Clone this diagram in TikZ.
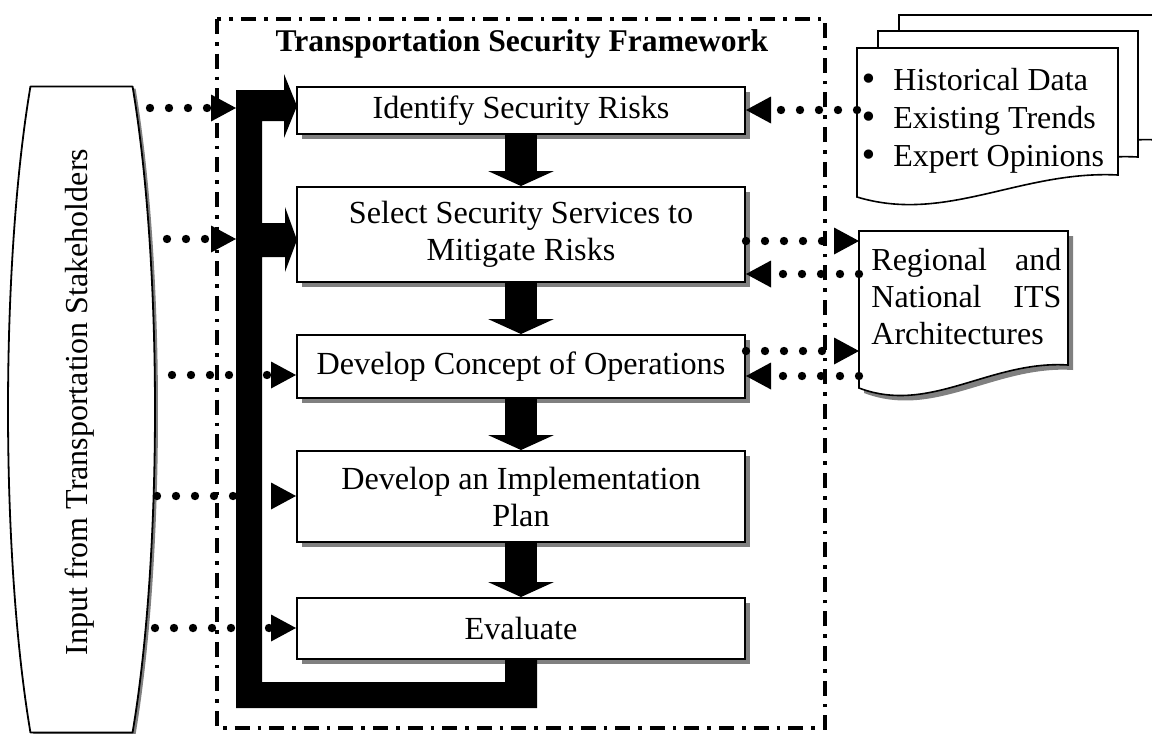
\documentclass[tikz,border=0pt]{standalone}
\usepackage{fontspec}
\setmainfont{Liberation Serif}
\newfontfamily\bulfont{DejaVu Sans}
\usetikzlibrary{arrows.meta,shadows,calc}
\newcommand{\bigbul}{\makebox[17pt][l]{\bulfont •}}
\begin{document}
\begin{tikzpicture}[x=0.5pt,y=-0.5pt,
  stepbox/.style={draw=black, line width=1pt, fill=white, inner sep=0pt, align=center,
     font=\fontsize{16.1}{18.5}\selectfont,
     drop shadow={shadow xshift=2.5pt, shadow yshift=-2.5pt, fill=black!50, opacity=1}},
  frameline/.style={line width=1.8pt, dash pattern=on 7.5pt off 4pt on 1.8pt off 4pt},
  docline/.style={draw=black, line width=0.8pt, fill=white, line join=miter},
  dotarrow/.style={line width=4.2pt, line cap=round, dash pattern=on 0pt off 9.5pt,
     -{Triangle[length=12.5pt,width=13.5pt,line width=0pt]}},
  blockarrow/.style={line width=16pt, -{Triangle[length=7.5pt,width=33pt,line width=0pt]}},
  txt/.style={inner sep=0pt, font=\fontsize{16}{18.75}\selectfont},
  regtext/.style={txt, text width=95pt, align=left, anchor=base west}
]
\useasboundingbox (0,0) rectangle (1152,734);

% frame
\draw[frameline] (217,19) rectangle (825,728);
\node[font=\bfseries\fontsize{15.8}{18}\selectfont, anchor=base, inner sep=0pt] (title) at (522,51) {Transportation Security Framework};

% input shape
\fill[black!50] plot[domain=-46:46, samples=60] ({84.5+73.5*cos(\x)},{411.5+449*sin(\x)}) -- plot[domain=134:226, samples=60] ({84.5+73.5*cos(\x)},{411.5+449*sin(\x)}) -- cycle;
\draw[line width=0.9pt, fill=white, line join=round] plot[domain=-46:46, samples=60] ({81.5+73.5*cos(\x)},{409.5+449*sin(\x)}) -- plot[domain=134:226, samples=60] ({81.5+73.5*cos(\x)},{409.5+449*sin(\x)}) -- cycle;
\node[rotate=90, font=\fontsize{16}{18}\selectfont, inner sep=0pt] (inptxt) at (80,402) {Input from Transportation Stakeholders};

% historical documents stack
\draw[docline] (899,15) -- (1160,15) -- (1160,140) .. controls (1063,135) and (988,186) .. (899,159) -- cycle;
\draw[docline] (878,31) -- (1138,31) -- (1138,157) .. controls (1041,152) and (967,206) .. (878,179) -- cycle;
\draw[docline] (857,48) -- (1118,48) -- (1118,175) .. controls (1021,170) and (946,224) .. (857,197) -- cycle;
\node[txt, anchor=base west] (hd1) at (859,90) {\bigbul Historical Data};
\node[txt, anchor=base west] (hd2) at (859,128) {\bigbul Existing Trends};
\node[txt, anchor=base west] (hd3) at (859,166) {\bigbul Expert Opinions};

% regional document
\fill[black!50] (864,236) -- (1073,236) -- (1073,370) .. controls (995,365) and (935,420) .. (864,393) -- cycle;
\draw[docline] (859,231) -- (1068,231) -- (1068,365) .. controls (990,360) and (930,415) .. (859,388) -- cycle;
\node[regtext] (rt1) at (871,270) {Regional\hfill and};
\node[regtext] (rt2) at (871,307) {National\hfill ITS};
\node[regtext] (rt3) at (871,344) {Architectures};

% process boxes
\node[stepbox, minimum width=224pt, minimum height=23.5pt] (b1) at (521,110.5) {Identify Security Risks};
\node[stepbox, minimum width=224pt, minimum height=47.5pt] (b2) at (521,234.5) {Select Security Services to\\Mitigate Risks};
\node[stepbox, minimum width=224pt, minimum height=31.5pt] (b3) at (521,366.5) {Develop Concept of Operations};
\node[stepbox, minimum width=224pt, minimum height=45.5pt] (b4) at (521,496.5) {Develop an Implementation\\Plan};
\node[stepbox, minimum width=224pt, minimum height=30.5pt] (b5) at (521,628.5) {Evaluate};

% dotted connectors, left
\coordinate (in1) at (150,108); \coordinate (bar1) at (236,108);
\coordinate (in2) at (167,239); \coordinate (bar2) at (236,239);
\coordinate (in3) at (172,375);
\coordinate (in4) at (157,496);
\coordinate (in5) at (155,628);
\draw[dotarrow] (in1) -- (bar1);
\draw[dotarrow] (in2) -- (bar2);
\draw[dotarrow] (in3) -- (in3 -| b3.west);
\draw[dotarrow] (in4) -- (in4 -| b4.west);
\draw[dotarrow] (in5) -- (in5 -| b5.west);

% dotted connectors, right
\coordinate (h1) at (857,110);
\coordinate (r1) at (859,241);
\coordinate (r2) at (859,274);
\coordinate (r3) at (859,351);
\coordinate (r4) at (859,376);
\draw[dotarrow] (h1) -- (h1 -| b1.east);
\draw[dotarrow] (r1 -| b2.east) -- (r1);
\draw[dotarrow] (r2) -- (r2 -| b2.east);
\draw[dotarrow] (r3 -| b3.east) -- (r3);
\draw[dotarrow] (r4) -- (r4 -| b3.east);

% feedback loop
\fill[black] (297,106) -- (284,138) -- (284,121) -- (262,121) -- (262,223) -- (285,223) -- (285,207) -- (297,240) -- (285,272) -- (285,257) -- (262,257) -- (262,682) -- (505,682) -- (505,659) -- (537,659) -- (537,708) -- (236,708) -- (236,90) -- (284,90) -- (284,74) -- cycle;

% block arrows
\draw[blockarrow] (b1.south) -- (b2.north);
\draw[blockarrow] (b2.south) -- (b3.north);
\draw[blockarrow] (b3.south) -- (b4.north);
\draw[blockarrow] (b4.south) -- (b5.north);
\end{tikzpicture}
\end{document}
